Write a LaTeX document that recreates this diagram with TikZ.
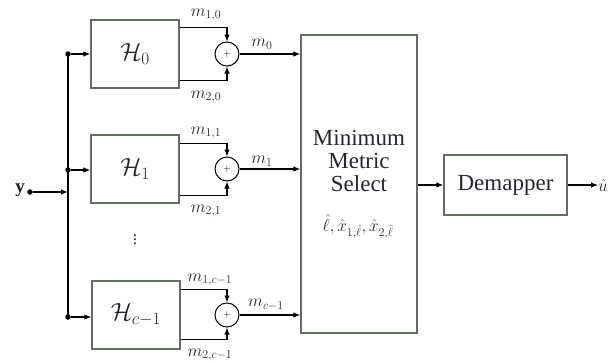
\documentclass[tikz,border=0pt]{standalone}
\usepackage{fontspec}
\setmainfont{Liberation Serif}
\usetikzlibrary{arrows.meta,calc}
\definecolor{boxc}{HTML}{5F6F5F}
\definecolor{txtc}{HTML}{25252F}
\begin{document}
\begin{tikzpicture}[x=1pt,y=-1pt,
  blk/.style={draw=boxc, line width=1.3pt, fill=white, minimum width=88pt, minimum height=68pt, inner sep=0pt, font=\fontsize{25}{26}\selectfont, text=txtc},
  addr/.style={circle, draw=black, line width=1pt, minimum size=24pt, inner sep=0pt, font=\fontsize{10}{10}\selectfont},
  arr/.style={-{Latex[length=7pt,width=5.5pt]}, line width=1.1pt},
  ln/.style={line width=1.1pt},
  dotn/.style={circle, fill=black, inner sep=0pt, minimum size=5.5pt},
  lbl/.style={inner sep=0pt, font=\fontsize{17}{17}\selectfont, text=txtc},
  big/.style={font=\fontsize{23}{23}\selectfont, text=txtc, align=center}]
\useasboundingbox (0,0) rectangle (610,362);
% boxes
\node[blk] (H0) at (135,54) {$\mathcal{H}_0$};
\node[blk] (H1) at (135,169) {$\mathcal{H}_1$};
\node[blk] (H2) at (136,315) {$\mathcal{H}_{c-1}$};
\node[addr] (A0) at (227,54) {$+$};
\node[addr] (A1) at (227,169) {$+$};
\node[addr] (A2) at (227,315) {$+$};
\node[draw=boxc, line width=1.3pt, minimum width=116pt, minimum height=298pt, inner sep=0pt] (MS) at (359,184) {};
\node[big] (MT) at (359,161) {Minimum\\Metric\\Select};
\node[lbl, font=\fontsize{18}{18}\selectfont] (MH) at (358,227) {$\hat{\ell},\hat{x}_{1,\hat{\ell}},\hat{x}_{2,\hat{\ell}}$};
\node[draw=boxc, line width=1.3pt, minimum width=123pt, minimum height=60pt, inner sep=0pt, font=\fontsize{23}{24}\selectfont, text=txtc] (DM) at (505.5,185) {Demapper};
% bus
\coordinate (B0) at (68,54);
\coordinate (B1) at (68,170);
\coordinate (B2) at (68,317);
\coordinate (BY) at (68,192);
\node[dotn] (D0) at (B0) {};
\node[dotn] (D1) at (B1) {};
\node[dotn] (D2) at (B2) {};
\node[dotn] (DY) at (30,192) {};
\node[lbl, anchor=east, font=\fontsize{19}{19}\selectfont] (YL) at (25,190) {$\mathbf{y}$};
\draw[ln] (B0) -- (B2);
\draw[arr] (DY) -- (BY);
\draw[arr] (D0) -- (H0.west |- D0);
\draw[arr] (D1) -- (H1.west |- D1);
\draw[arr] (D2) -- (H2.west |- D2);
% adder feeds
\draw[arr] ($(H0.north east)+(0,8)$) -| (A0.north);
\draw[arr] ($(H0.south east)+(0,-8)$) -| (A0.south);
\draw[arr] ($(H1.north east)+(0,9)$) -| (A1.north);
\draw[arr] ($(H1.south east)+(0,-8)$) -| (A1.south);
\draw[arr] ($(H2.north east)+(0,9)$) -| (A2.north);
\draw[arr] ($(H2.south east)+(0,-10)$) -| (A2.south);
% outputs
\draw[arr] (A0.east) -- (MS.west |- A0);
\draw[arr] (A1.east) -- (MS.west |- A1);
\draw[arr] (A2.east) -- (MS.west |- A2);
\draw[arr] (MS.east |- DM.west) -- (DM.west);
\coordinate (OUT) at (598,185);
\draw[arr] (DM.east) -- (OUT);
\node[lbl, anchor=west, font=\fontsize{19}{19}\selectfont] (UH) at (OUT) {$\hat{u}$};
% labels
\node[lbl] (L10) at (206,15) {$m_{1,0}$};
\node[lbl] (L20) at (206,97) {$m_{2,0}$};
\node[lbl] (M0) at (262,44) {$m_0$};
\node[lbl] (L11) at (206,133) {$m_{1,1}$};
\node[lbl] (L21) at (206,211) {$m_{2,1}$};
\node[lbl] (M1) at (262,161) {$m_1$};
\node[lbl] (L12) at (210,280) {$m_{1,c-1}$};
\node[lbl] (L22) at (210,355) {$m_{2,c-1}$};
\node[lbl] (M2) at (266,305) {$m_{c-1}$};
\node[lbl] (VD) at (135,237) {$\vdots$};
\end{tikzpicture}
\end{document}
